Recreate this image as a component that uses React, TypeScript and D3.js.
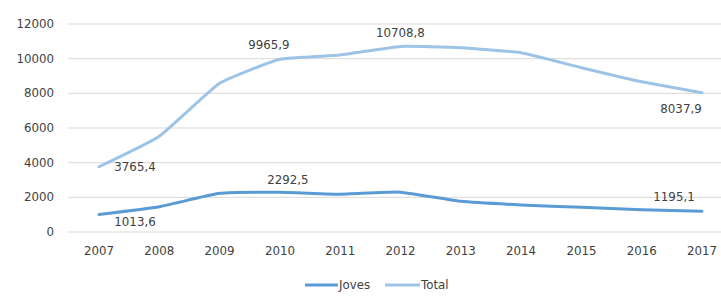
import React from 'react';
import * as d3 from 'd3';

const years = ['2007', '2008', '2009', '2010', '2011', '2012', '2013', '2014', '2015', '2016', '2017'];
const joves = [1013.6, 1460, 2230, 2292.5, 2180, 2300, 1770, 1560, 1425, 1285, 1195.1];
const total = [3765.4, 5530, 8580, 9965.9, 10210, 10708.8, 10630, 10340, 9480, 8670, 8037.9];
const yTicks = [0, 2000, 4000, 6000, 8000, 10000, 12000];

// labelled points: [index, dx, dy]
const jovesLabels: [number, number, number][] = [[0, 36, 7], [3, 8, -12], [10, -28, -14]];
const totalLabels: [number, number, number][] = [[0, 36, 0], [3, -11, -14], [5, 0, -14], [10, -21, 16]];

const fmt = (v: number) => v.toFixed(1).replace('.', ',');

export default function App() {
  const width = 721;
  const height = 298;
  const x = d3.scalePoint().domain(years).range([99, 702]);
  const y = d3.scaleLinear().domain([0, 12000]).range([232, 24]);

  const line = d3.line<number>()
    .x((d, i) => x(years[i]) as number)
    .y(d => y(d))
    .curve(d3.curveCardinal.tension(0.6));

  const font = '"DejaVu Sans", Verdana, sans-serif';
  const jovesColor = '#5b9bd5';
  const totalColor = '#9dc3e6';

  return (
    <svg width={width} height={height} style={{ position: 'absolute', left: 0, top: 0, background: '#fff' }}>
      <g fontFamily={font} fontSize={11.8} fill="#404040">
        {yTicks.map(t => (
          <g key={t}>
            <line x1={68} x2={721} y1={y(t)} y2={y(t)} stroke="#d9d9d9" strokeWidth={1} />
            <text x={54} y={y(t)} dy="0.35em" textAnchor="end">{t}</text>
          </g>
        ))}
        {years.map(yr => (
          <text key={yr} x={x(yr)} y={251} dy="0.35em" textAnchor="middle">{yr}</text>
        ))}
        <path d={line(total) || ''} fill="none" stroke={totalColor} strokeWidth={3} strokeLinecap="round" />
        <path d={line(joves) || ''} fill="none" stroke={jovesColor} strokeWidth={3} strokeLinecap="round" />
        {totalLabels.map(([i, dx, dy]) => (
          <text key={'t' + i} x={(x(years[i]) as number) + dx} y={y(total[i]) + dy} dy="0.35em" textAnchor="middle">{fmt(total[i])}</text>
        ))}
        {jovesLabels.map(([i, dx, dy]) => (
          <text key={'j' + i} x={(x(years[i]) as number) + dx} y={y(joves[i]) + dy} dy="0.35em" textAnchor="middle">{fmt(joves[i])}</text>
        ))}
        <line x1={305} x2={338} y1={285} y2={285} stroke={jovesColor} strokeWidth={3} />
        <text x={339} y={285} dy="0.35em">Joves</text>
        <line x1={385} x2={420} y1={285} y2={285} stroke={totalColor} strokeWidth={3} />
        <text x={421} y={285} dy="0.35em">Total</text>
      </g>
    </svg>
  );
}
